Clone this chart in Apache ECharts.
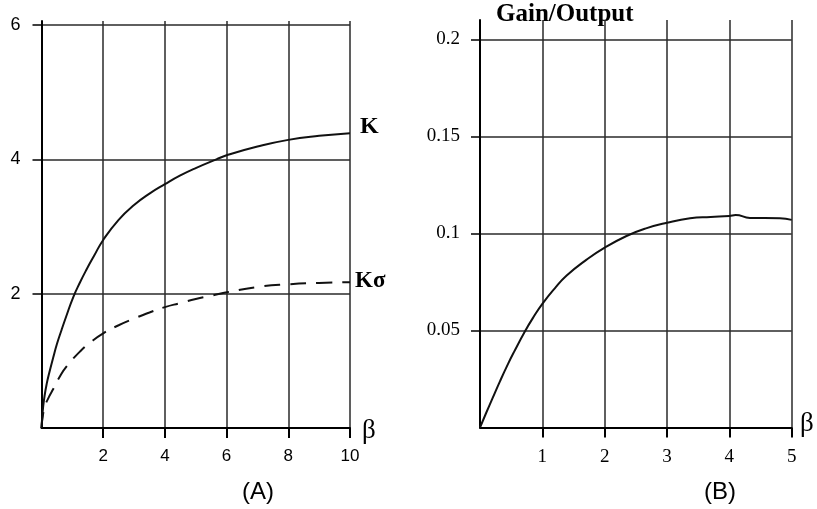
<!DOCTYPE html>
<html>
<head>
<meta charset="utf-8">
<script src="https://cdn.jsdelivr.net/npm/echarts@6/dist/echarts.min.js"></script>
<style>
html,body{margin:0;padding:0;background:#fff;}
#c{width:817px;height:509px;}
</style>
</head>
<body>
<div id="c"></div>
<script>
// Panel A data
var kBeta = [0, 0.02, 0.05, 0.1, 0.17, 0.25, 0.38, 0.5, 0.65, 0.8, 1.03, 1.25, 1.46, 1.7, 2, 2.5, 3, 3.5, 4, 4.5, 5, 5.67, 6, 7, 8, 9, 10];
var kValues = [0, 0.14, 0.3, 0.48, 0.66, 0.82, 1.05, 1.25, 1.46, 1.66, 1.95, 2.17, 2.36, 2.56, 2.8, 3.1, 3.32, 3.49, 3.63, 3.76, 3.87, 4.0, 4.06, 4.19, 4.29, 4.35, 4.39];
var ksBeta = [0, 0.03, 0.11, 0.25, 0.38, 0.6, 0.82, 1.25, 1.6, 2, 2.5, 3, 3.5, 4, 4.5, 5, 5.5, 6, 7, 8, 9, 10];
var ksValues = [0, 0.14, 0.32, 0.47, 0.58, 0.77, 0.92, 1.14, 1.28, 1.41, 1.53, 1.63, 1.72, 1.8, 1.86, 1.92, 1.97, 2.02, 2.10, 2.14, 2.16, 2.17];
var aXTicks = [2, 4, 6, 8, 10];
var aYTicks = [2, 4, 6];
// Panel B data
var gBeta = [0, 0.1, 0.2, 0.32, 0.45, 0.56, 0.72, 0.85, 1.0, 1.2, 1.39, 1.71, 2.0, 2.35, 2.65, 3.0, 3.37, 3.7, 4.0, 4.1, 4.33, 4.81, 5.0];
var gValues = [0, 0.0076, 0.015, 0.0238, 0.0328, 0.0398, 0.0495, 0.0565, 0.0637, 0.0717, 0.0783, 0.0865, 0.0927, 0.0987, 0.1025, 0.1055, 0.1078, 0.1085, 0.109, 0.1095, 0.108, 0.1078, 0.107];
var bXTicks = [1, 2, 3, 4, 5];
var bYTicks = [0.05, 0.1, 0.15, 0.2];

function zip(a, b) { return a.map(function (v, i) { return [v, b[i]]; }); }

var gridColor = '#2a2a2a';
var lineColor = '#111';

function xAxisDef(gi, max, interval, ticks, font, size) {
  return {
    type: 'value', gridIndex: gi, min: 0, max: max, interval: interval,
    axisLine: { show: true, onZero: false, lineStyle: { color: '#000', width: 2 } },
    axisTick: { show: true, length: 10, customValues: ticks, lineStyle: { color: '#000', width: 2 } },
    axisLabel: { customValues: ticks, margin: 20, color: '#000', fontFamily: font, fontSize: size },
    splitLine: { show: true, showMinLine: true, showMaxLine: true, lineStyle: { color: gridColor, width: 1.5 } }
  };
}
function yAxisDef(gi, max, interval, ticks, font, size, margin) {
  return {
    type: 'value', gridIndex: gi, min: 0, max: max, interval: interval,
    axisLine: { show: true, onZero: false, lineStyle: { color: '#000', width: 2 } },
    axisTick: { show: true, length: 9, customValues: ticks, lineStyle: { color: '#000', width: 1.5 } },
    axisLabel: { customValues: ticks, margin: margin, color: '#000', fontFamily: font, fontSize: size },
    splitLine: { show: true, showMinLine: true, showMaxLine: true, lineStyle: { color: gridColor, width: 1.5 } }
  };
}

var chart = echarts.init(document.getElementById('c'), null, { renderer: 'canvas' });
chart.setOption({
  backgroundColor: '#fff',
  animation: false,
  grid: [
    { left: 41.5, right: 467, top: 21, bottom: 81 },
    { left: 480, right: 25.3, top: 20, bottom: 81.5 }
  ],
  xAxis: [
    xAxisDef(0, 10, 2, aXTicks, '"Liberation Sans", Arial, sans-serif', 17),
    xAxisDef(1, 5, 1, bXTicks, '"Liberation Serif", "Times New Roman", serif', 19)
  ],
  yAxis: [
    yAxisDef(0, 6.06, 2, aYTicks, '"Liberation Sans", Arial, sans-serif', 18, 21),
    yAxisDef(1, 0.21, 0.05, bYTicks, '"Liberation Serif", "Times New Roman", serif', 19, 20)
  ],
  series: [
    { type: 'line', name: 'K', xAxisIndex: 0, yAxisIndex: 0, data: zip(kBeta, kValues), smooth: 0.5, showSymbol: false,
      lineStyle: { color: lineColor, width: 2 } },
    { type: 'line', name: 'Kσ', xAxisIndex: 0, yAxisIndex: 0, data: zip(ksBeta, ksValues), smooth: 0.5, showSymbol: false,
      lineStyle: { color: lineColor, width: 2, type: [16, 10] } },
    { type: 'line', name: 'Gain/Output', xAxisIndex: 1, yAxisIndex: 1, data: zip(gBeta, gValues), smooth: 0.5, showSymbol: false,
      lineStyle: { color: lineColor, width: 2 } }
  ],
  graphic: [
    { type: 'text', left: 360, top: 115, style: { text: 'K', font: 'bold 24px "Liberation Serif", serif', fill: '#000' } },
    { type: 'text', left: 355, top: 270, style: { text: 'Kσ', font: 'bold 23px "Liberation Serif", serif', fill: '#000' } },
    { type: 'text', left: 496, top: 2, style: { text: 'Gain/Output', font: 'bold 25px "Liberation Serif", serif', fill: '#000' } },
    { type: 'text', left: 362, top: 417, style: { text: 'β', font: '27px "Liberation Serif", serif', fill: '#000' } },
    { type: 'text', left: 800, top: 410, style: { text: 'β', font: '27px "Liberation Serif", serif', fill: '#000' } },
    { type: 'text', left: 242, top: 480, style: { text: '(A)', font: '24px "Liberation Sans", Arial, sans-serif', fill: '#000' } },
    { type: 'text', left: 704, top: 480, style: { text: '(B)', font: '24px "Liberation Sans", Arial, sans-serif', fill: '#000' } }
  ]
});
</script>
</body>
</html>
